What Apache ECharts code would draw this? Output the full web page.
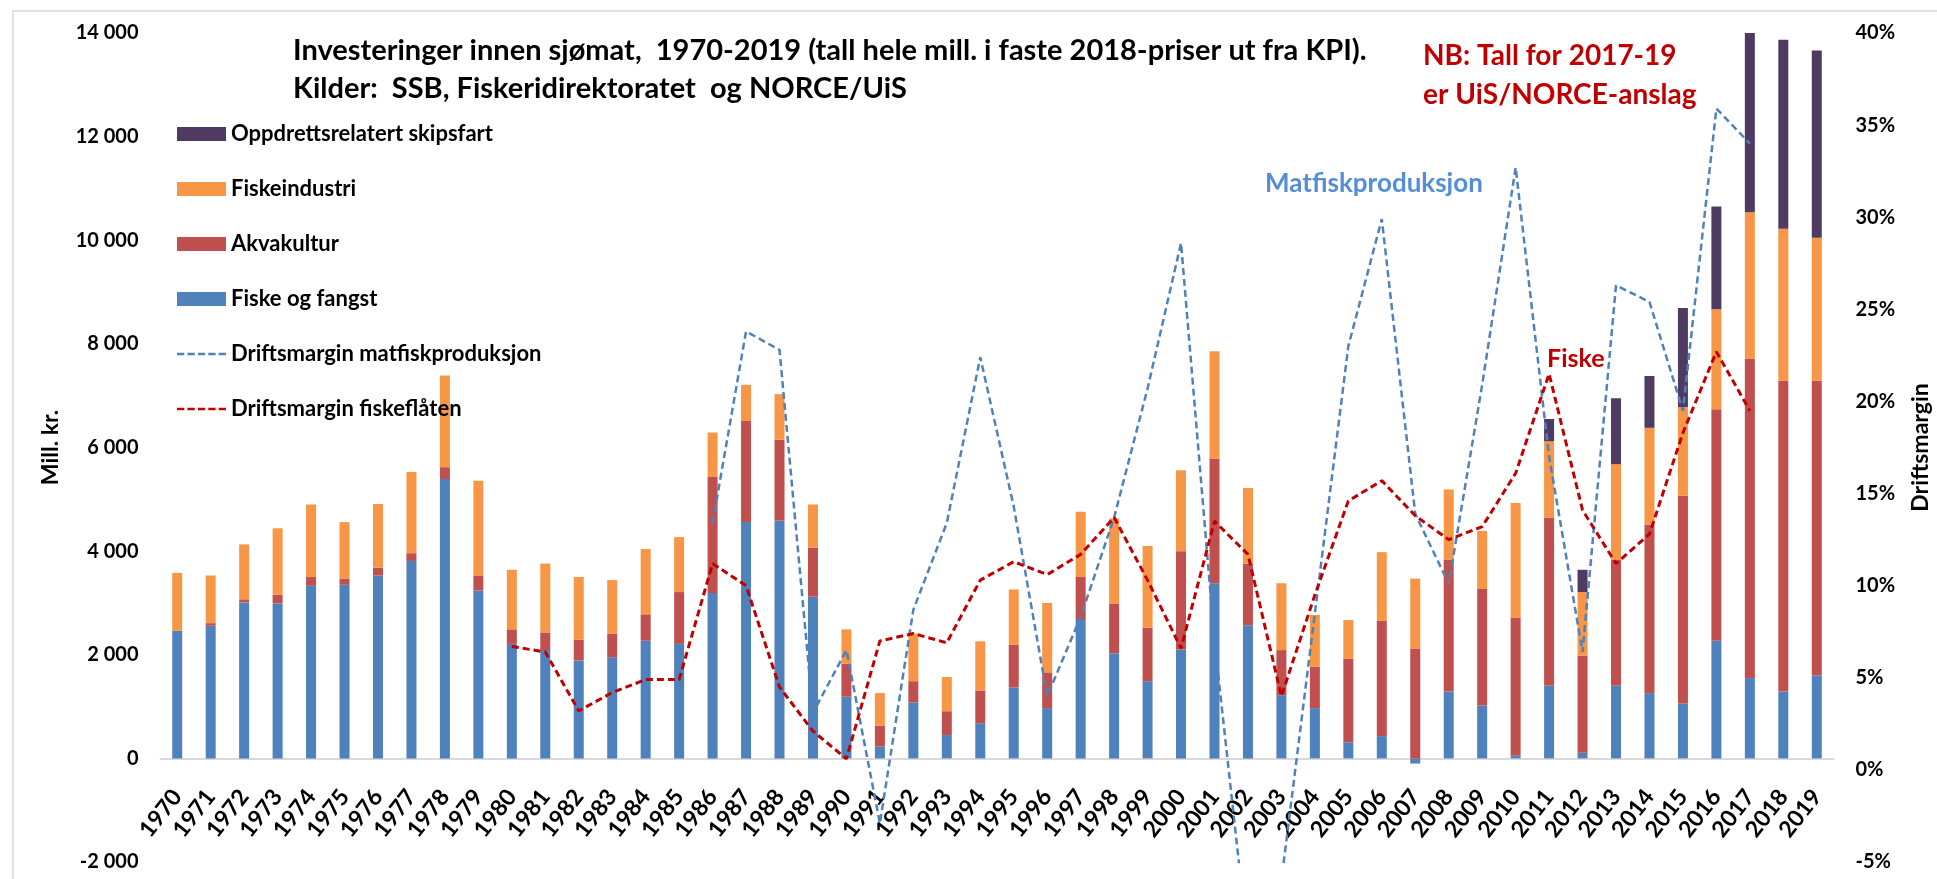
<!DOCTYPE html>
<html>
<head>
<meta charset="utf-8">
<script src="https://cdn.jsdelivr.net/npm/echarts/dist/echarts.min.js"></script>
<style>
html,body{margin:0;padding:0;background:#fff;}
#chart{width:1937px;height:879px;}
</style>
</head>
<body>
<div id="chart"></div>
<script>
var years=['1970','1971','1972','1973','1974','1975','1976','1977','1978','1979',
	'1980','1981','1982','1983','1984','1985','1986','1987','1988','1989',
	'1990','1991','1992','1993','1994','1995','1996','1997','1998','1999',
	'2000','2001','2002','2003','2004','2005','2006','2007','2008','2009',
	'2010','2011','2012','2013','2014','2015','2016','2017','2018','2019'];

// investeringer, mill. kr (2018-priser)
var fiskeOgFangst=[2460,2560,3010,2990,3330,3350,3530,3810,5390,3240,
	2210,2090,1890,1950,2270,2210,3190,4560,4590,3120,
	1190,230,1080,450,680,1370,970,2670,2030,1490,
	2100,3380,2570,1220,970,310,430,-100,1290,1020,
	50,1400,110,1400,1260,1060,2270,1550,1290,1600];
var akvakultur=[0,50,60,170,170,120,150,150,230,290,
	280,340,400,460,510,1000,2240,1960,1560,950,
	640,400,410,460,630,820,690,830,960,1030,
	1900,2410,1190,870,800,1610,2230,2120,2550,2250,
	2670,3250,1870,2430,3250,4010,4470,6170,6000,5690];
var fiskeindustri=[1120,920,1060,1280,1400,1090,1230,1570,1770,1830,
	1150,1330,1210,1030,1260,1060,860,690,880,830,
	660,630,920,660,950,1070,1340,1260,1640,1580,
	1560,2070,1460,1290,1000,750,1320,1350,1350,1120,
	2210,1470,1230,1850,1870,1710,1930,2820,2930,2760];
var skipsfart=[null,null,null,null,null,null,null,null,null,null,
	null,null,null,null,null,null,null,null,null,null,
	null,null,null,null,null,null,null,null,null,null,
	null,null,null,null,null,null,null,null,null,null,
	null,430,430,1270,1000,1910,1980,3460,3650,3610];

// driftsmargin, prosent
var marginMatfisk=[null,null,null,null,null,null,null,null,null,null,
	null,null,null,null,null,null,13.4,23.8,22.8,3.1,
	6.5,-2.9,8.7,13.4,22.4,14.3,4.0,8.3,13.7,20.7,
	28.6,7.0,-9.5,-6.0,8.5,23.0,29.9,13.9,10.1,20.9,
	32.7,17.0,6.4,26.3,25.4,19.5,35.9,34.0,null,null];
var marginFlaaten=[null,null,null,null,null,null,null,null,null,null,
	6.7,6.4,3.2,4.2,4.9,4.9,11.2,10.0,4.5,2.1,
	0.6,7.0,7.4,6.9,10.3,11.3,10.6,11.7,13.7,10.3,
	6.6,13.5,11.7,4.0,9.5,14.6,15.7,13.8,12.5,13.2,
	16.1,21.5,14.1,11.2,12.8,18.3,22.7,19.5,null,null];

var font='Lato';
// stiplet strek til forklaringen
var dashIcon='path://M0,0h7v2.5h-7z M10,0h7v2.5h-7z M20,0h7v2.5h-7z M30,0h7v2.5h-7z M40,0h7v2.5h-7z';
var myChart=echarts.init(document.getElementById('chart'));

function tusen(v){
	var s=String(Math.abs(v)).replace(/\B(?=(\d{3})+(?!\d))/g,' ');
	return (v<0?'-':'')+s;
}

function bar(name,data,color){
	return {
		name:name,
		type:'bar',
		stack:'inv',
		barWidth:10,
		data:data,
		itemStyle:{color:color}
	};
}

// plott: topp 33, bunn 862, -2000..14000 -> x-aksen ligger paa 0
var gridTop=33,gridBottom=862;
var zeroOffset=(gridBottom-gridTop)*2000/16000;

var option={
	animation:false,
	backgroundColor:'#fff',
	textStyle:{fontFamily:font},
	title:{
		text:'Investeringer innen sjømat,  1970-2019 (tall hele mill. i faste 2018-priser ut fra KPI).\nKilder:  SSB, Fiskeridirektoratet  og NORCE/UiS',
		left:293,
		top:32,
		padding:0,
		textStyle:{fontFamily:font,fontSize:29,fontWeight:'bold',color:'#000',lineHeight:38}
	},
	legend:{
		orient:'vertical',
		left:172,
		top:118,
		itemWidth:49,
		itemHeight:14,
		itemGap:33,
		textStyle:{fontFamily:font,fontSize:22,fontWeight:'bold',color:'#000',lineHeight:22},
		data:[
			{name:'Oppdrettsrelatert skipsfart',icon:'rect'},
			{name:'Fiskeindustri',icon:'rect'},
			{name:'Akvakultur',icon:'rect'},
			{name:'Fiske og fangst',icon:'rect'},
			{name:'Driftsmargin matfiskproduksjon',icon:dashIcon},
			{name:'Driftsmargin fiskeflåten',icon:dashIcon}
		]
	},
	grid:{left:160.5,right:103.5,top:gridTop,bottom:879-gridBottom,containLabel:false,outerBoundsMode:'none'},
	xAxis:{
		type:'category',
		data:years,
		position:'bottom',
		offset:-zeroOffset,
		axisLine:{onZero:false,lineStyle:{color:'#D9D9D9',width:2}},
		axisTick:{show:false},
		axisLabel:{interval:0,rotate:52,margin:34,fontFamily:font,fontSize:23,fontWeight:'bold',color:'#000'}
	},
	yAxis:[
		{
			type:'value',
			min:-2000,
			max:14000,
			interval:2000,
			name:'Mill. kr.',
			nameLocation:'middle',
			nameRotate:90,
			nameGap:98,
			nameTextStyle:{fontFamily:font,fontSize:23,fontWeight:'bold',color:'#000'},
			axisLine:{show:false},
			axisTick:{show:false},
			splitLine:{show:false},
			axisLabel:{margin:22,fontFamily:font,fontSize:20,fontWeight:'bold',color:'#000',formatter:tusen}
		},
		{
			type:'value',
			min:-5,
			max:40,
			interval:5,
			name:'Driftsmargin',
			nameLocation:'middle',
			nameRotate:90,
			nameGap:76,
			nameTextStyle:{fontFamily:font,fontSize:23,fontWeight:'bold',color:'#000'},
			axisLine:{show:false},
			axisTick:{show:false},
			splitLine:{show:false},
			axisLabel:{margin:22,fontFamily:font,fontSize:20,fontWeight:'bold',color:'#000',formatter:'{value}%'}
		}
	],
	graphic:[
		{type:'rect',silent:true,z:-10,shape:{x:13,y:11,width:1940,height:880},
			style:{fill:'none',stroke:'#D9D9D9',lineWidth:1.5}},
		{type:'text',left:1423,top:36,silent:true,
			style:{text:'NB: Tall for 2017-19\ner UiS/NORCE-anslag',fill:'#C00000',font:'bold 28px Lato',lineHeight:39}},
		{type:'text',left:1265,top:171,silent:true,
			style:{text:'Matfiskproduksjon',fill:'#558ED5',font:'bold 26px Lato'}},
		{type:'text',left:1547,top:346,silent:true,
			style:{text:'Fiske',fill:'#C00000',font:'bold 25px Lato'}}
	],
	series:[
		bar('Fiske og fangst',fiskeOgFangst,'#4F81BD'),
		bar('Akvakultur',akvakultur,'#C0504D'),
		bar('Fiskeindustri',fiskeindustri,'#F79646'),
		bar('Oppdrettsrelatert skipsfart',skipsfart,'#4F3B62'),
		{
			name:'Driftsmargin matfiskproduksjon',
			type:'line',
			yAxisIndex:1,
			data:marginMatfisk,
			symbol:'none',
			lineStyle:{color:'#4F81BD',width:2.5,type:[7,4]},
			itemStyle:{color:'#4F81BD'},
			z:5
		},
		{
			name:'Driftsmargin fiskeflåten',
			type:'line',
			yAxisIndex:1,
			data:marginFlaaten,
			symbol:'none',
			lineStyle:{color:'#C00000',width:3,type:[7,4]},
			itemStyle:{color:'#C00000'},
			z:6
		}
	]
};
myChart.setOption(option);
</script>
</body>
</html>
